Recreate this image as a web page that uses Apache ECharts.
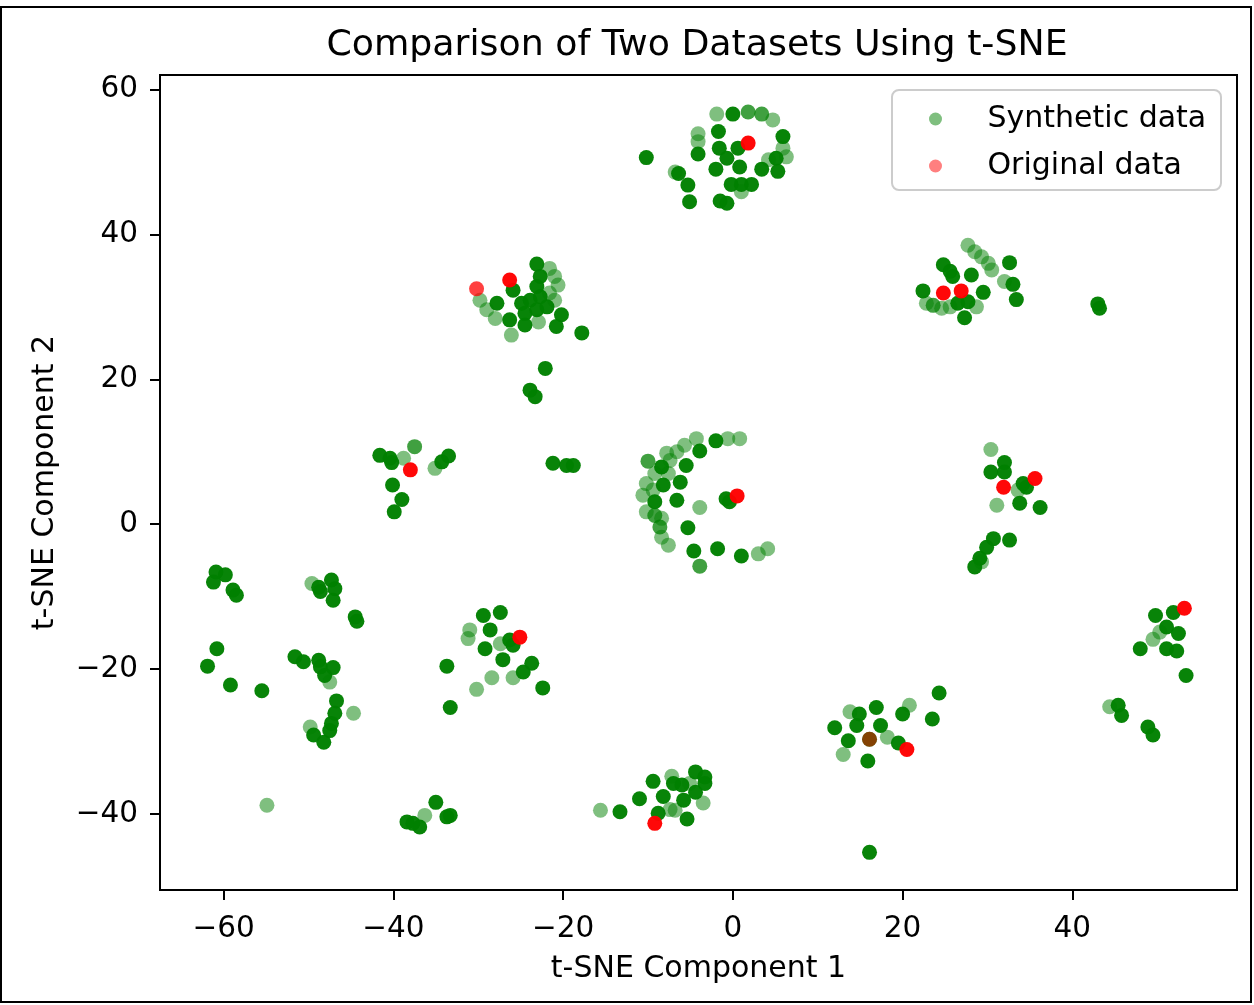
<!DOCTYPE html>
<html><head><meta charset="utf-8">
<script src="https://cdn.jsdelivr.net/npm/echarts@6/dist/echarts.min.js"></script>
<style>html,body{margin:0;padding:0;background:#fff}#c{width:1254px;height:1005px}</style>
</head><body><div id="c"></div>
<script>
const chartTitle = 'Comparison of Two Datasets Using t-SNE';
const xAxisName = 't-SNE Component 1';
const yAxisName = 't-SNE Component 2';
const seriesNames = ['Synthetic data', 'Original data'];
const xTicks = [-60, -40, -20, 0, 20, 40];
const yTicks = [-40, -20, 0, 20, 40, 60];
const xRange = [-67.5, 59.4];
const yRange = [-50.5, 62];

// [x, y, overlap]  overlap: 1 = single translucent point, 2 = two stacked, 3 = many stacked
const syntheticTop = [[-10.2,50.6,3],[-1.9,56.6,1],[0.0,56.6,3],[1.8,56.9,2],[3.4,56.6,2],[4.7,55.8,1],[-1.7,54.2,3],[-4.1,53.9,1],[-4.1,52.8,1],[-4.1,51.1,3],[-1.6,51.9,3],[-0.7,50.5,3],[0.6,51.9,3],[5.9,53.5,3],[5.9,51.9,1],[6.3,50.7,1],[5.1,50.5,3],[4.2,50.3,1],[5.3,48.7,3],[3.4,49.0,3],[0.8,49.3,3],[-2.0,49.0,3],[-6.8,48.6,1],[-6.4,48.4,3],[-5.3,46.8,3],[-5.1,44.5,3],[-0.2,46.9,3],[1.0,46.9,3],[2.2,46.9,3],[1.0,45.9,1],[-1.5,44.6,3],[-0.7,44.3,3]];
const syntheticUpperLeft = [[-29.8,30.9,1],[-29.0,29.6,1],[-28.0,28.4,1],[-27.8,30.5,3],[-26.3,28.2,3],[-26.1,26.1,1],[-25.9,32.3,3],[-24.5,27.5,3],[-23.1,35.9,3],[-21.6,35.3,1],[-21.0,34.2,1],[-20.6,33.0,1],[-22.7,34.2,3],[-23.1,32.8,3],[-22.7,31.4,3],[-23.9,30.9,3],[-24.9,30.5,3],[-24.5,29.1,3],[-23.1,29.6,3],[-21.9,30.0,3],[-21.6,31.9,1],[-21.0,30.9,1],[-22.9,27.9,1],[-20.2,28.9,3],[-20.8,27.3,3],[-17.8,26.4,3],[-22.1,21.5,3],[-23.9,18.5,3],[-23.3,17.6,3]];
const syntheticUpperRight = [[22.4,32.2,3],[24.8,35.8,3],[25.6,34.9,3],[25.9,34.2,3],[28.1,34.4,3],[29.5,32.0,3],[27.7,38.5,1],[28.5,37.6,1],[29.3,36.9,1],[30.1,36.0,1],[30.5,35.1,1],[32.6,36.1,3],[32.0,33.5,1],[33.0,33.1,3],[33.4,31.0,3],[22.8,30.5,1],[23.6,30.2,2],[24.6,29.8,1],[25.6,30.0,1],[26.5,30.5,3],[27.7,30.7,3],[27.3,28.5,3],[28.7,30.0,1],[43.0,30.4,3],[43.2,29.8,3]];
const syntheticMidLeft = [[-41.6,9.5,3],[-40.4,9.1,3],[-40.2,8.5,3],[-38.8,9.1,1],[-37.5,10.7,2],[-35.1,7.7,1],[-34.3,8.6,3],[-33.5,9.4,3],[-40.1,5.4,3],[-39.0,3.4,3],[-39.9,1.7,3],[-21.2,8.4,3],[-19.6,8.1,3],[-18.8,8.1,3]];
const syntheticCenter = [[-4.3,11.8,1],[-2.0,11.5,3],[-0.6,11.8,1],[0.8,11.8,1],[-5.7,10.9,1],[-3.9,10.1,3],[-6.6,10.0,1],[-7.8,9.8,1],[-10.0,8.7,2],[-7.4,8.8,1],[-5.5,8.1,3],[-8.4,7.9,3],[-7.6,7.0,1],[-9.2,7.0,1],[-8.2,5.4,3],[-6.2,5.8,3],[-10.2,5.6,1],[-9.4,4.7,1],[-10.6,4.0,1],[-6.6,3.3,3],[-9.2,3.1,3],[-3.9,2.3,1],[-0.8,3.5,3],[-0.4,3.1,3],[-10.2,1.7,1],[-9.2,1.2,2],[-8.4,0.8,1],[-8.6,-0.4,2],[-5.3,-0.5,3],[-8.4,-1.8,1],[-7.6,-2.9,1],[-4.6,-3.7,3],[-1.8,-3.4,3],[1.0,-4.4,3],[3.0,-4.1,1],[4.1,-3.4,1],[-3.9,-5.8,2]];
const syntheticMidRight = [[30.4,10.3,1],[32.0,8.5,3],[30.4,7.2,3],[32.0,7.2,3],[34.2,5.6,3],[34.6,5.1,3],[33.6,4.7,1],[31.1,2.6,1],[33.8,2.9,3],[36.2,2.3,3],[30.7,-2.0,3],[32.6,-2.2,3],[29.9,-3.2,3],[29.1,-4.7,3],[28.5,-5.9,3],[29.3,-5.2,1]];
const syntheticFarLeft = [[-60.9,-6.6,3],[-59.8,-7.0,3],[-61.2,-8.0,3],[-58.9,-9.1,3],[-58.5,-9.8,3],[-49.6,-8.2,1],[-48.8,-8.7,3],[-48.6,-9.3,3],[-47.3,-7.7,3],[-46.9,-8.9,3],[-47.1,-10.5,3],[-44.5,-12.8,3],[-44.3,-13.4,3],[-60.8,-17.2,3],[-61.9,-19.6,3],[-59.2,-22.2,3],[-55.5,-23.0,3],[-51.6,-18.3,3],[-50.6,-19.0,3],[-48.8,-18.8,3],[-48.6,-19.7,3],[-47.1,-19.8,3],[-48.1,-20.9,3],[-47.5,-21.8,1],[-46.7,-24.4,3],[-46.9,-26.1,3],[-44.7,-26.1,1],[-47.3,-27.5,3],[-47.5,-28.5,3],[-49.8,-28.0,1],[-49.4,-29.1,3],[-48.2,-30.1,3],[-54.9,-38.8,1]];
const syntheticLowerLeft = [[-29.4,-12.6,3],[-27.4,-12.2,3],[-28.6,-14.6,3],[-31.0,-14.6,1],[-31.2,-15.8,1],[-29.2,-17.2,3],[-27.4,-16.5,1],[-26.3,-16.0,3],[-25.9,-16.7,3],[-27.1,-18.7,3],[-33.7,-19.6,3],[-23.7,-19.2,3],[-24.7,-20.4,3],[-25.9,-21.2,1],[-28.4,-21.2,1],[-30.2,-22.8,1],[-22.4,-22.6,3],[-33.3,-25.3,3]];
const syntheticRight = [[51.9,-12.2,3],[49.8,-12.6,3],[51.1,-14.2,3],[50.3,-14.9,1],[52.5,-15.1,3],[49.5,-15.9,1],[48.0,-17.2,3],[51.1,-17.2,3],[52.3,-17.5,3],[53.4,-20.9,3],[44.4,-25.2,1],[45.4,-25.0,3],[45.8,-26.4,3],[48.9,-28.0,3],[49.5,-29.1,3]];
const syntheticLowerRight = [[24.3,-23.3,3],[20.8,-25.0,1],[20.0,-26.2,3],[16.9,-25.3,3],[13.8,-25.9,1],[14.9,-26.2,3],[23.5,-26.9,3],[12.0,-28.1,3],[14.6,-27.8,3],[17.4,-27.8,3],[13.6,-29.9,3],[16.1,-29.7,3],[18.2,-29.4,1],[19.5,-30.2,3],[13.0,-31.8,1],[15.9,-32.7,3],[16.1,-45.3,3]];
const syntheticBottom = [[-15.6,-39.5,1],[-13.3,-39.7,3],[-11.0,-37.9,3],[-9.4,-35.5,3],[-8.2,-37.6,3],[-7.2,-34.8,1],[-7.0,-35.8,3],[-6.0,-36.0,3],[-4.4,-34.2,3],[-3.3,-34.9,3],[-3.3,-35.8,3],[-5.1,-35.8,1],[-4.4,-37.0,3],[-5.8,-38.1,3],[-3.5,-38.5,1],[-7.4,-39.4,1],[-6.8,-39.5,1],[-8.8,-39.9,3],[-5.4,-40.7,3]];
const syntheticBottomLeft = [[-38.4,-41.1,3],[-37.7,-41.3,3],[-36.9,-41.8,3],[-36.3,-40.2,1],[-35.0,-38.4,3],[-33.7,-40.4,3],[-33.3,-40.2,3]];

const originalPoints = [[1.8,52.6,3],[-30.2,32.5,2],[-26.3,33.7,3],[24.8,31.9,3],[26.9,32.2,3],[-38.0,7.5,3],[0.5,3.9,3],[31.9,5.1,3],[35.6,6.3,3],[-25.1,-15.6,3],[53.2,-11.6,3],[20.5,-31.1,3],[16.1,-29.7,1],[-9.2,-41.3,3]];

const syntheticPoints = [].concat(syntheticTop, syntheticUpperLeft, syntheticUpperRight, syntheticMidLeft,
  syntheticCenter, syntheticMidRight, syntheticFarLeft, syntheticLowerLeft, syntheticRight,
  syntheticLowerRight, syntheticBottom, syntheticBottomLeft);

const stackOpacity = {1: 0.5, 2: 0.75, 3: 0.97};
const toItems = pts => pts.map(p => ({value: [p[0], p[1]], itemStyle: {opacity: stackOpacity[p[2]]}}));

const FONT = 'DejaVu Sans';
const chart = echarts.init(document.getElementById('c'), null, {renderer: 'canvas'});
const axisCommon = {
  axisLine: {show: true, onZero: false, lineStyle: {color: '#000', width: 2}},
  axisTick: {show: true, inside: false, length: 10, lineStyle: {color: '#000', width: 2}},
  splitLine: {show: false},
  nameLocation: 'middle',
  nameTextStyle: {fontFamily: FONT, fontSize: 30, color: '#000'}
};
chart.setOption({
  animation: false,
  backgroundColor: '#fff',
  title: {
    text: chartTitle, left: 697, top: 28, textAlign: 'center', padding: 0,
    textStyle: {fontFamily: FONT, fontSize: 36.3, fontWeight: 'normal', color: '#000'}
  },
  grid: {left: 160, top: 75, right: 17, bottom: 115, show: true, borderColor: '#000', borderWidth: 2, containLabel: false},
  xAxis: Object.assign({}, axisCommon, {
    type: 'value', min: xRange[0], max: xRange[1], name: xAxisName, nameGap: 64,
    axisTick: Object.assign({}, axisCommon.axisTick, {customValues: xTicks}),
    axisLabel: {customValues: xTicks, margin: 24, fontFamily: FONT, fontSize: 29.5, color: '#000',
      formatter: v => (v < 0 ? '\u2212' + Math.abs(v) : String(v))}
  }),
  yAxis: Object.assign({}, axisCommon, {
    type: 'value', min: yRange[0], max: yRange[1], name: yAxisName, nameGap: 100, nameRotate: 90,
    axisTick: Object.assign({}, axisCommon.axisTick, {customValues: yTicks}),
    axisLabel: {customValues: yTicks, margin: 22, fontFamily: FONT, fontSize: 29.5, color: '#000',
      formatter: v => (v < 0 ? '\u2212' + Math.abs(v) : String(v))}
  }),
  legend: {
    orient: 'vertical', left: 929, top: 104, itemWidth: 28, itemHeight: 13, itemGap: 17, icon: 'circle',
    z: 10, padding: 0, selectedMode: false,
    formatter: name => '{t|' + name + '}',
    textStyle: {fontFamily: FONT, fontSize: 30, color: '#000',
      rich: {t: {fontFamily: FONT, fontSize: 30, color: '#000', lineHeight: 30, padding: [0, 0, 0, 33]}}},
    data: seriesNames
  },
  graphic: [
    {type: 'rect', z: 9, shape: {x: 892, y: 90, width: 329, height: 100, r: 7},
      style: {fill: 'rgba(255,255,255,0.8)', stroke: '#cccccc', lineWidth: 2}},
    {type: 'rect', z: 0, silent: true, shape: {x: 1, y: 7, width: 1250, height: 995},
      style: {fill: 'none', stroke: '#000', lineWidth: 2}}
  ],
  series: [
    {name: seriesNames[0], type: 'scatter', symbol: 'circle', symbolSize: 15,
      itemStyle: {color: '#008000', opacity: 0.5, borderWidth: 0}, data: toItems(syntheticPoints)},
    {name: seriesNames[1], type: 'scatter', symbol: 'circle', symbolSize: 15,
      itemStyle: {color: '#ff0000', opacity: 0.5, borderWidth: 0}, data: toItems(originalPoints)}
  ]
});
</script></body></html>
